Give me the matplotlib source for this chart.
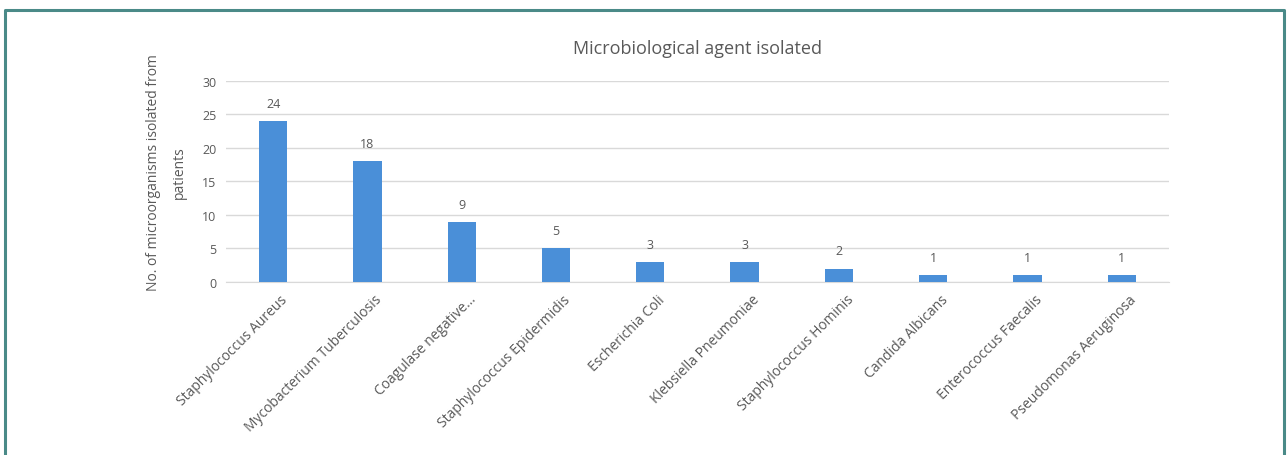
import matplotlib.pyplot as plt
from matplotlib.lines import Line2D
from matplotlib.transforms import ScaledTranslation

plt.rcParams['font.family'] = ['Open Sans', 'DejaVu Sans']

organisms = ['Staphylococcus Aureus', 'Mycobacterium Tuberculosis', 'Coagulase negative...',
             'Staphylococcus Epidermidis', 'Escherichia Coli', 'Klebsiella Pneumoniae',
             'Staphylococcus Hominis', 'Candida Albicans', 'Enterococcus Faecalis',
             'Pseudomonas Aeruginosa']
counts = [24, 18, 9, 5, 3, 3, 2, 1, 1, 1]
yticks = [0, 5, 10, 15, 20, 25, 30]

grey = '#595959'
bar_color = '#4a8fd8'

fig = plt.figure(figsize=(12.87, 4.56), dpi=100)
ax = fig.add_axes([0.1756, 0.3794, 0.7327, 0.4408])

x = range(len(organisms))
bars = ax.bar(x, counts, width=0.3, color=bar_color, zorder=3)
for b, v in zip(bars, counts):
    ax.annotate(str(v), (b.get_x() + b.get_width() / 2, v), xytext=(0, 8),
                textcoords='offset points', ha='center', va='bottom',
                fontsize=9, color=grey)

ax.set_xlim(-0.5, len(organisms) - 0.5)
ax.set_ylim(0, 30)
ax.set_yticks(yticks)
ax.yaxis.grid(True, color='#d9d9d9', linewidth=1, zorder=0)
ax.tick_params(axis='y', length=0, labelsize=9, labelcolor=grey, pad=7)
ax.tick_params(axis='x', length=0, labelsize=10, labelcolor=grey, pad=7)
ax.set_xticks(list(x))
ax.set_xticklabels(organisms, rotation=45, ha='right', rotation_mode='anchor')
shift = ScaledTranslation(7 / 100, 0, fig.dpi_scale_trans)
for lab in ax.get_xticklabels():
    lab.set_transform(lab.get_transform() + shift)
for s in ['top', 'right', 'left']:
    ax.spines[s].set_visible(False)
ax.spines['bottom'].set_color('#d9d9d9')

ax.set_ylabel('No. of microorganisms isolated from\npatients', fontsize=10, color=grey,
              linespacing=1.9)
ax.yaxis.set_label_coords(-0.042, 0.55)
ax.set_title('Microbiological agent isolated', fontsize=13, color=grey, pad=20)

# teal frame, open at the bottom
fc = '#4a8a88'
x0, x1, yt = 5 / 1287, 1284 / 1287, 1 - 11 / 456
fig.add_artist(Line2D([x0, x0, x1, x1], [0, yt, yt, 0], transform=fig.transFigure,
                      color=fc, linewidth=2.2))

fig.savefig('out.png', dpi=100)
